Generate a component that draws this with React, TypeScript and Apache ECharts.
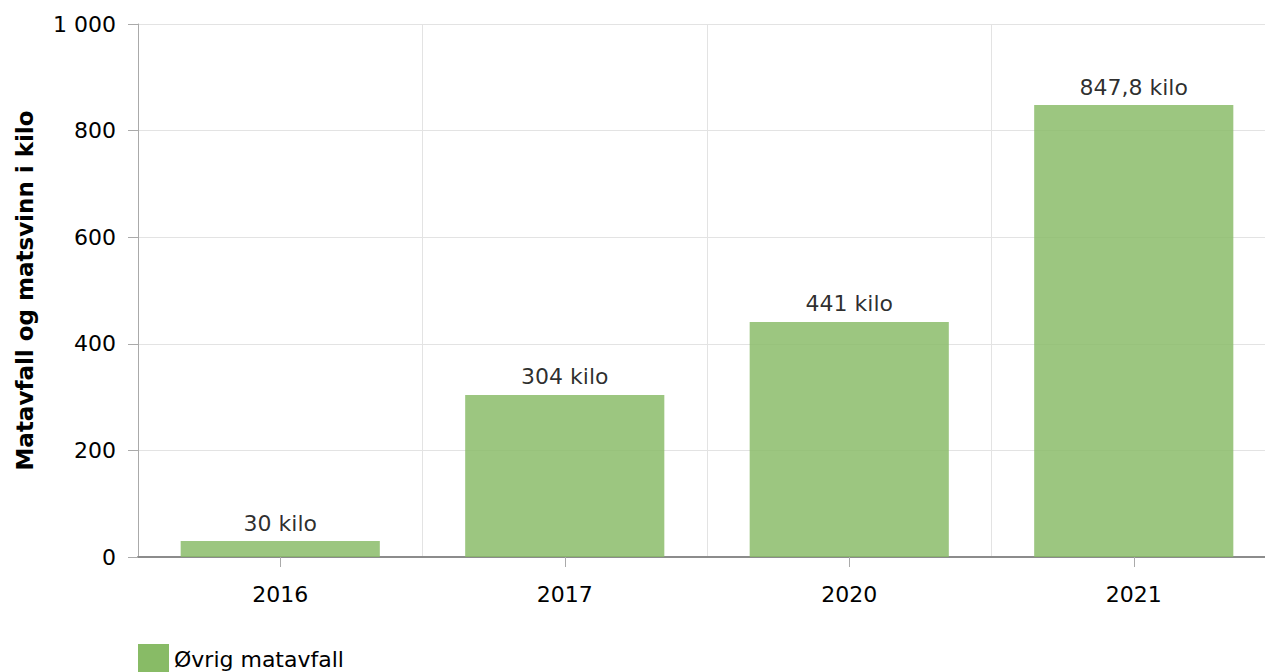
import React, { useEffect, useRef } from "react";
import * as echarts from "echarts";

const categories = ["2016", "2017", "2020", "2021"];
const values = [30, 304, 441, 847.8];
const seriesName = "Øvrig matavfall";
const yAxisName = "Matavfall og matsvinn i kilo";

const FONT = "DejaVu Sans, Verdana, sans-serif";

function fmtThousands(v: number): string {
  return String(v).replace(/\B(?=(\d{3})+(?!\d))/g, " ");
}

export default function App() {
  const ref = useRef<HTMLDivElement>(null);
  useEffect(() => {
    if (!ref.current) return;
    const chart = echarts.init(ref.current, null, { renderer: "svg" });
    chart.setOption({
      animation: false,
      textStyle: { fontFamily: FONT },
      grid: { left: 138, top: 24, bottom: 115, right: 4, containLabel: false },
      legend: {
        left: 138,
        top: 644,
        padding: 0,
        itemWidth: 31,
        itemHeight: 31,
        itemGap: 8,
        icon: "rect",
        textStyle: { fontSize: 22, color: "#000", fontFamily: FONT },
        itemStyle: { opacity: 1 },
        data: [seriesName],
      },
      xAxis: {
        type: "category",
        data: categories,
        axisLine: { lineStyle: { color: "#8c8c8c", width: 2 } },
        axisTick: { show: true, alignWithLabel: true, length: 10, lineStyle: { color: "#aaa" } },
        axisLabel: { fontSize: 22, color: "#000", margin: 26, fontFamily: FONT },
        splitLine: { show: true, lineStyle: { color: "#e3e3e3", width: 1 } },
      },
      yAxis: {
        type: "value",
        min: 0,
        max: 1000,
        interval: 200,
        name: yAxisName,
        nameLocation: "middle",
        nameGap: 102,
        nameTextStyle: { fontSize: 23, fontWeight: "bold", color: "#000", fontFamily: FONT },
        axisLine: { show: true, lineStyle: { color: "#aaa", width: 1 } },
        axisTick: { show: true, length: 10, lineStyle: { color: "#aaa" } },
        axisLabel: {
          fontSize: 22,
          color: "#000",
          margin: 22,
          fontFamily: FONT,
          formatter: (v: number) => fmtThousands(v),
        },
        splitLine: { show: true, lineStyle: { color: "#e3e3e3", width: 1 } },
      },
      series: [
        {
          name: seriesName,
          type: "bar",
          data: values,
          barCategoryGap: "30%",
          itemStyle: { color: "#88bb66", opacity: 0.83 },
          label: {
            show: true,
            position: "top",
            distance: 7,
            fontSize: 22,
            color: "#000",
            fontFamily: FONT,
            formatter: (p: any) => String(p.value).replace(".", ",") + " kilo",
          },
        },
      ],
    });
    return () => chart.dispose();
  }, []);
  return (
    <div style={{ width: 1265, height: 672, position: "absolute", left: 0, top: 0, overflow: "hidden" }}>
      <div ref={ref} style={{ width: 1280, height: 672 }} />
    </div>
  );
}
